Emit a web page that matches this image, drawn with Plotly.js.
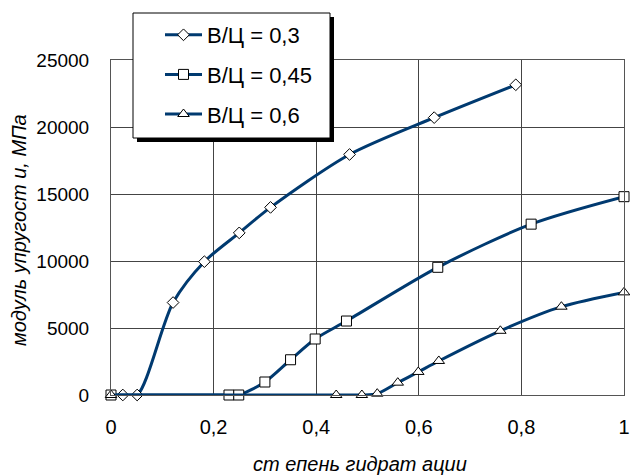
<!DOCTYPE html>
<html>
<head>
<meta charset="utf-8">
<script src="https://cdn.plot.ly/plotly-3.0.1.min.js"></script>
<style>html,body{margin:0;padding:0;background:#fff;}#chart{width:630px;height:475px;}</style>
</head>
<body>
<div id="chart"></div>
<script>
// Data
var seriesNames = ["В/Ц = 0,3", "В/Ц = 0,45", "В/Ц = 0,6"];
var x03 = [0.023, 0.051, 0.121, 0.182, 0.25, 0.311, 0.465, 0.63, 0.789];
var y03 = [0, 0, 6900, 9950, 12100, 14000, 17950, 20700, 23150];
var x045 = [0, 0.23, 0.249, 0.3, 0.35, 0.398, 0.459, 0.637, 0.819, 1.0];
var y045 = [0, 0, 0, 970, 2630, 4180, 5520, 9530, 12750, 14800];
var x06 = [0, 0.439, 0.489, 0.519, 0.559, 0.599, 0.639, 0.759, 0.878, 1.0];
var y06 = [0, 0, 0, 100, 920, 1720, 2540, 4790, 6590, 7660];
var xTickVals = [0, 0.2, 0.4, 0.6, 0.8, 1];
var xTickText = ["0", "0,2", "0,4", "0,6", "0,8", "1"];
var yTickVals = [0, 5000, 10000, 15000, 20000, 25000];
var yTickText = ["0", "5000", "10000", "15000", "20000", "25000"];
var xTitle = "ст епень гидрат ации";
var yTitle = "модуль упругост и, МПа";

var lineColor = "#003a70";
var FONT = "Liberation Sans, Arial, sans-serif";

function mk(name, xs, ys, symbol, size, grp) {
  return {
    type: "scatter", mode: "lines+markers", name: name, x: xs, y: ys,
    legendgroup: grp, cliponaxis: false,
    line: {color: lineColor, width: 3, shape: "spline", smoothing: 0.8},
    marker: {symbol: symbol, size: size, color: "#ffffff", line: {color: "#000000", width: 1}}
  };
}

var data = [
  mk(seriesNames[0], x03, y03, "diamond", 9, "a"),
  mk(seriesNames[1], x045, y045, "square", 10, "b"),
  mk(seriesNames[2], x06, y06, "triangle-up", 10, "c")
];

var bx0 = (133 - 111) / 513, bx1 = (330 - 111) / 513;
var by1 = (395 - 13) / 335, by0 = (395 - 138) / 335;
var dx = 4 / 513, dy = 4 / 335;

var layout = {
  width: 630, height: 475,
  margin: {l: 111, r: 6, t: 60, b: 80},
  paper_bgcolor: "#ffffff", plot_bgcolor: "#ffffff",
  separators: ", ",
  font: {family: FONT, size: 19, color: "#000"},
  showlegend: true,
  xaxis: {
    range: [0, 1], tickvals: xTickVals, ticktext: xTickText,
    showgrid: true, gridcolor: "#444", gridwidth: 1, zeroline: false,
    showline: true, linecolor: "#555", linewidth: 1, mirror: true,
    ticks: "", ticklabelstandoff: 14,
    tickfont: {family: FONT, size: 20, color: "#000"}
  },
  yaxis: {
    range: [0, 25000], tickvals: yTickVals, ticktext: yTickText,
    showgrid: true, gridcolor: "#444", gridwidth: 1, zeroline: false,
    showline: true, linecolor: "#555", linewidth: 1, mirror: true,
    ticks: "", ticklabelstandoff: 17,
    tickfont: {family: FONT, size: 19, color: "#000"}
  },
  legend: {
    x: (160 - 111) / 513, y: (395 - 14) / 335, xanchor: "left", yanchor: "top",
    bgcolor: "rgba(0,0,0,0)", borderwidth: 0,
    traceorder: "grouped", tracegroupgap: 8, itemwidth: 37,
    font: {family: FONT, size: 22, color: "#000"}
  },
  shapes: [
    {type: "rect", xref: "paper", yref: "paper", layer: "above",
     x0: bx0 + dx, x1: bx1 + dx, y0: by0 - dy, y1: by1 - dy,
     fillcolor: "#000", line: {width: 0}},
    {type: "rect", xref: "paper", yref: "paper", layer: "above",
     x0: bx0, x1: bx1, y0: by0, y1: by1,
     fillcolor: "#fff", line: {color: "#000", width: 1}}
  ],
  annotations: [
    {text: xTitle, xref: "paper", yref: "paper", x: (360 - 111) / 513, y: (395 - 464) / 335,
     xanchor: "center", yanchor: "middle", showarrow: false,
     font: {family: FONT, size: 20, style: "italic", color: "#000"}},
    {text: yTitle, xref: "paper", yref: "paper", x: (19 - 111) / 513, y: (395 - 230) / 335,
     xanchor: "center", yanchor: "middle", showarrow: false, textangle: -90,
     font: {family: FONT, size: 20, style: "italic", color: "#000"}}
  ]
};

Plotly.newPlot("chart", data, layout, {staticPlot: true, displayModeBar: false});
</script>
</body>
</html>
